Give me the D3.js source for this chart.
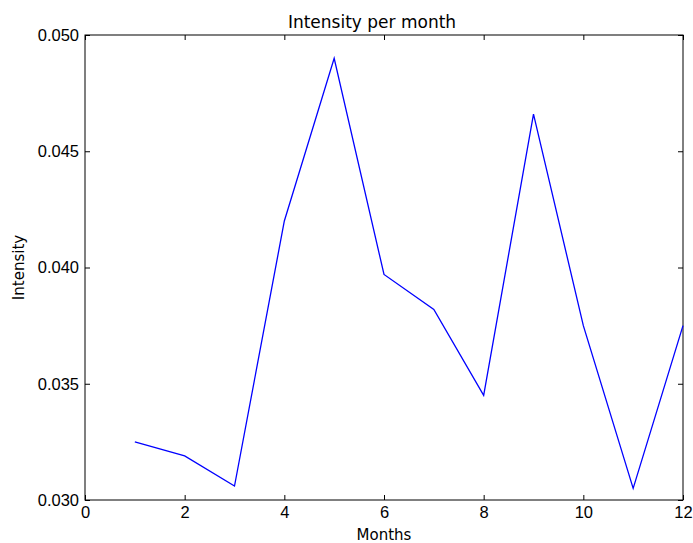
<!DOCTYPE html>
<html>
<head>
<meta charset="UTF-8">
<title>Intensity per month</title>
<style>
  body { margin: 0; background: #fff; }
  svg { display: block; font-family: "DejaVu Sans", sans-serif; }
</style>
</head>
<body>
<div id="chart"></div>
<script src="https://d3js.org/d3.v7.min.js"></script>
<script>
// data
var months = [1, 2, 3, 4, 5, 6, 7, 8, 9, 10, 11, 12];
var intensity = [0.0325, 0.0319, 0.0306, 0.0420, 0.0490, 0.0397, 0.0382, 0.0345, 0.0466, 0.0375, 0.0305, 0.0375];
var xTicks = [0, 2, 4, 6, 8, 10, 12];
var yTicks = [0.030, 0.035, 0.040, 0.045, 0.050];

var width = 693, height = 543;
var margin = { top: 35, right: 10, bottom: 43, left: 85 };

var svg = d3.select("#chart").append("svg")
  .attr("width", width)
  .attr("height", height);

var x = d3.scaleLinear().domain([0, 12]).range([margin.left, width - margin.right]);
var y = d3.scaleLinear().domain([0.030, 0.050]).range([height - margin.bottom, margin.top]);

// axes, ticks pointing inside
function styleAxis(g) {
  g.select(".domain").remove();
  g.selectAll("line").attr("stroke", "#000");
  g.selectAll("text").attr("font-size", "16.5px").attr("fill", "#000");
}

svg.append("g")
  .attr("transform", "translate(0," + (height - margin.bottom) + ")")
  .call(d3.axisBottom(x).tickValues(xTicks).tickFormat(d3.format("d")).tickSizeInner(-5).tickSizeOuter(0).tickPadding(6))
  .call(styleAxis);

svg.append("g")
  .attr("transform", "translate(0," + margin.top + ")")
  .call(d3.axisTop(x).tickValues(xTicks).tickFormat("").tickSizeInner(-5).tickSizeOuter(0))
  .call(styleAxis);

svg.append("g")
  .attr("transform", "translate(" + margin.left + ",0)")
  .call(d3.axisLeft(y).tickValues(yTicks).tickFormat(d3.format(".3f")).tickSizeInner(-5).tickSizeOuter(0).tickPadding(6))
  .call(styleAxis);

svg.append("g")
  .attr("transform", "translate(" + (width - margin.right) + ",0)")
  .call(d3.axisRight(y).tickValues(yTicks).tickFormat("").tickSizeInner(-5).tickSizeOuter(0))
  .call(styleAxis);

// frame
svg.append("rect")
  .attr("x", margin.left)
  .attr("y", margin.top)
  .attr("width", width - margin.left - margin.right)
  .attr("height", height - margin.top - margin.bottom)
  .attr("fill", "none")
  .attr("stroke", "#000")
  .attr("stroke-width", 1);

// line
var line = d3.line()
  .x(function(d, i) { return x(months[i]); })
  .y(function(d) { return y(d); });

svg.append("path")
  .datum(intensity)
  .attr("d", line)
  .attr("fill", "none")
  .attr("stroke", "#0000ff")
  .attr("stroke-width", 1.3);

// labels
svg.append("text")
  .attr("x", 372)
  .attr("y", 28)
  .attr("text-anchor", "middle")
  .attr("font-size", "17px")
  .text("Intensity per month");

svg.append("text")
  .attr("x", (margin.left + width - margin.right) / 2)
  .attr("y", 540)
  .attr("text-anchor", "middle")
  .attr("font-size", "15px")
  .text("Months");

svg.append("text")
  .attr("transform", "translate(24," + ((margin.top + height - margin.bottom) / 2) + ") rotate(-90)")
  .attr("text-anchor", "middle")
  .attr("font-size", "15px")
  .text("Intensity");
</script>
</body>
</html>
